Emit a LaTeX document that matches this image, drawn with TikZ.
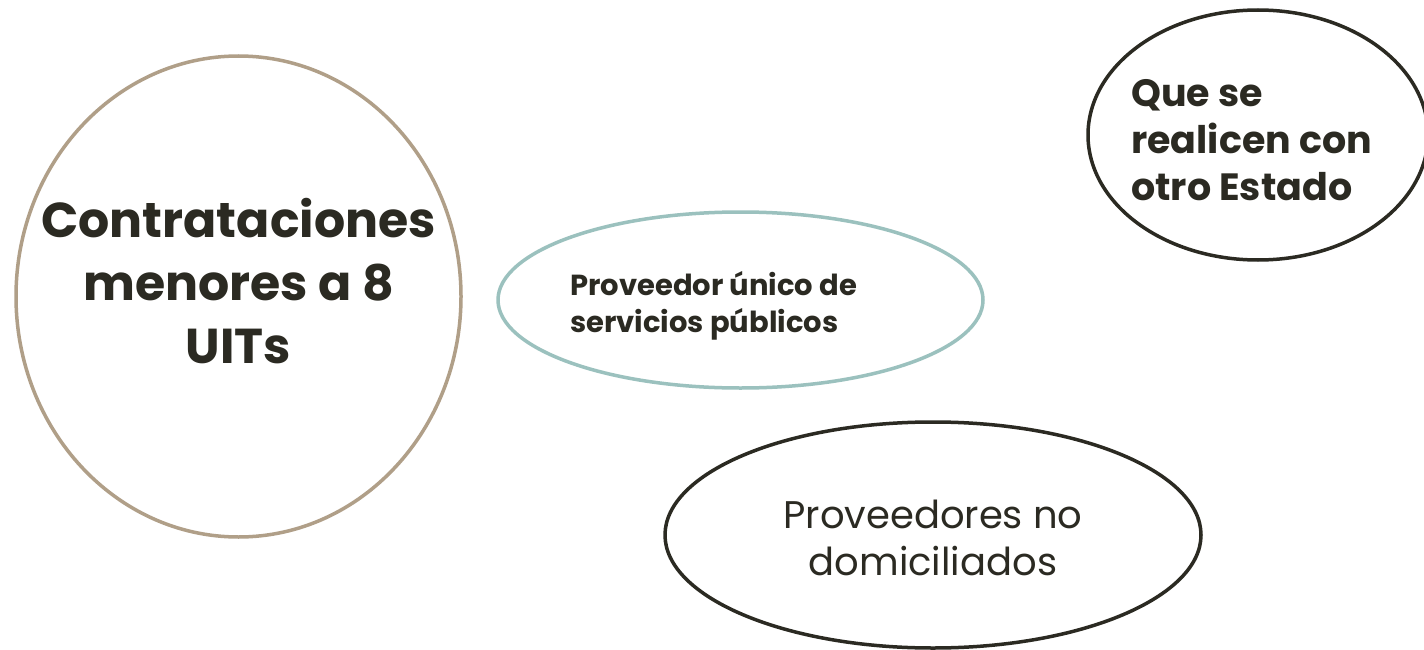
\documentclass[tikz,border=0pt]{standalone}
\usepackage{fontspec}
\setmainfont{Poppins}
\usetikzlibrary{shapes.geometric}
\definecolor{tan}{HTML}{B09F88}
\definecolor{teal}{HTML}{9BC1BE}
\definecolor{ink}{HTML}{2B2A22}
\tikzset{
  oval/.style={ellipse, draw, line width=3.5pt, inner sep=0pt},
  txt/.style={text=ink, inner sep=0pt, font=\bfseries}
}
\begin{document}
\begin{tikzpicture}[x=1pt,y=-1pt]
\useasboundingbox (0,0) rectangle (1424,650);
\clip (0,0) rectangle (1424,650);
\fill[white] (0,0) rectangle (1424,650);
\node[oval, draw=tan, minimum width=445pt, minimum height=481pt] (e1) at (238.5,296.5) {};
\node[txt, align=center, font=\bfseries\fontsize{49}{63}\selectfont] (t1) at (238.5,281) {Contrataciones\\menores a 8\\UITs};
\node[oval, draw=teal, minimum width=485pt, minimum height=176pt] (e2) at (740.5,300) {};
\node[txt, align=left, anchor=west, font=\bfseries\fontsize{29}{37}\selectfont] (t2) at (570,306) {Proveedor único de\\servicios públicos};
\node[oval, draw=ink, minimum width=340pt, minimum height=250pt] (e3) at (1258,135) {};
\node[txt, align=left, anchor=west, font=\bfseries\fontsize{38}{47}\selectfont] (t3) at (1131,140) {Que se\\realicen con\\otro Estado};
\node[oval, draw=ink, minimum width=536pt, minimum height=226pt] (e4) at (933,535) {};
\node[txt, align=center, font=\fontsize{38.5}{47}\selectfont] (t4) at (933,538) {Proveedores no\\domiciliados};
\end{tikzpicture}
\end{document}
